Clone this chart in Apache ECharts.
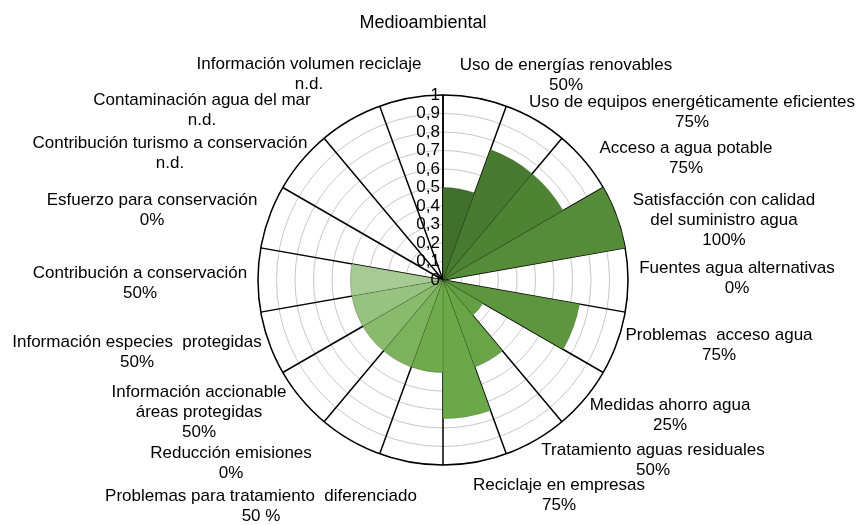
<!DOCTYPE html>
<html><head><meta charset="utf-8">
<script src="https://cdn.jsdelivr.net/npm/echarts@6/dist/echarts.min.js"></script>
<style>html,body{margin:0;padding:0;background:#fff}#c{width:861px;height:525px}</style>
</head><body><div id="c"></div>
<script>
// ---- data ----
var categories = [
  "Uso de energías renovables",
  "Uso de equipos energéticamente eficientes",
  "Acceso a agua potable",
  "Satisfacción con calidad\ndel suministro agua",
  "Fuentes agua alternativas",
  "Problemas  acceso agua",
  "Medidas ahorro agua",
  "Tratamiento aguas residuales",
  "Reciclaje en empresas",
  "Problemas para tratamiento  diferenciado",
  "Reducción emisiones",
  "Información accionable\náreas protegidas",
  "Información especies  protegidas",
  "Contribución a conservación",
  "Esfuerzo para conservación",
  "Contribución turismo a conservación",
  "Contaminación agua del mar",
  "Información volumen reciclaje"
];
var valueLabels = ["50%","75%","75%","100%","0%","75%","25%","50%","75%","50 %","0%","50%","50%","50%","0%","n.d.","n.d.","n.d."];
var values = [0.5,0.75,0.75,1,0,0.75,0.25,0.5,0.75,0.5,0.5,0.5,0.5,0.5,0,0,0,0];
var radiusTicks = [0,0.1,0.2,0.3,0.4,0.5,0.6,0.7,0.8,0.9,1];

// ---- style ----
var colors = ["#416f2c","#487a30","#4e8334","#558b39","#5a903c","#5e963f","#63a043","#67a546","#6aa848","#6faa4b","#7cb25b","#8aba6c","#98c27f","#a7cb94","#b0d09e","#b0d09e","#b0d09e","#b0d09e"];
// label anchor positions (center x, first line center y)
var labelPos = [[566,65],[692,102],[686,148],[724,200],[737,268],[719,335],[670,405],[653,450],[559,485],[261,496],[231,453],[199,392],[137,342],[140,273],[152,200],[170,143],[202,100],[309,64]];
var LH = 20;
var FONT = 'Liberation Sans, Arial, sans-serif';

var chart = echarts.init(document.getElementById('c'), null, {renderer:'canvas'});
var graphics = categories.map(function(c,i){
  return {
    type:'text', z:100,
    style:{
      text: c + "\n" + valueLabels[i],
      x: labelPos[i][0], y: labelPos[i][1] - LH/2,
      textAlign:'center', textVerticalAlign:'top',
      fontSize:17, fontFamily:FONT, lineHeight:LH, fill:'#000'
    }
  };
});
var tickFmt = function(v){return String(Math.round(v*10)/10).replace('.',',');};
chart.setOption({
  animation:false,
  backgroundColor:'#fff',
  title:{text:'Medioambiental', left:418, top:9, textAlign:'center',
    textStyle:{fontSize:18, fontWeight:'normal', color:'#000', fontFamily:FONT}},
  polar:[{center:[443,280], radius:185},{center:[443,280], radius:185, z:20}],
  angleAxis:[{
    polarIndex:0,
    type:'category', data:categories, startAngle:90, clockwise:true,
    boundaryGap:true,
    axisLine:{show:true, lineStyle:{color:'#000', width:1.5}},
    axisTick:{show:false}, axisLabel:{show:false},
    splitLine:{show:true, lineStyle:{color:'#000', width:1.5}}
  },{
    polarIndex:1, type:'category', data:categories, startAngle:90, z:20,
    axisLine:{show:false}, axisTick:{show:false}, axisLabel:{show:false}, splitLine:{show:false}
  }],
  radiusAxis:[{
    polarIndex:0,
    type:'value', min:0, max:1, interval:0.1,
    axisLine:{show:true, lineStyle:{color:'#000', width:1.5}},
    axisTick:{show:false},
    axisLabel:{show:false},
    splitLine:{show:true, lineStyle:{color:'#c8c8c8', width:1}}
  },{
    polarIndex:1, z:20,
    type:'value', min:radiusTicks[0], max:radiusTicks[radiusTicks.length-1], interval:0.1,
    axisLine:{show:false}, axisTick:{show:false}, splitLine:{show:false},
    axisLabel:{show:true, fontSize:17, color:'#000', fontFamily:FONT, margin:3,
      showMinLabel:true, showMaxLabel:true, hideOverlap:false, formatter:tickFmt}
  }],
  series:[{
    type:'bar', coordinateSystem:'polar', polarIndex:0, barCategoryGap:'0%', barGap:'0%',
    data: values.map(function(v,i){return {value:v, itemStyle:{color:colors[i]}};}),
    itemStyle:{borderColor:'rgba(0,0,0,0.25)', borderWidth:0.5}
  }],
  graphic: graphics
});
</script></body></html>
